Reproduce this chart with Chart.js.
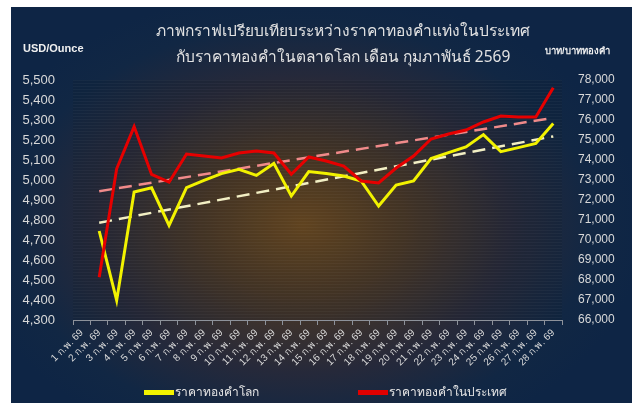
<!DOCTYPE html>
<html>
<head>
<meta charset="utf-8">
<script src="https://cdn.jsdelivr.net/npm/chart.js@4.4.1/dist/chart.umd.min.js"></script>
<style>
  body { margin: 0; background: #fff; font-family: "Liberation Sans", Arial, sans-serif; }
  #wrap {
    position: absolute; left: 11px; top: 7px; width: 621px; height: 396px;
    background: radial-gradient(ellipse 55% 60% at 47% 55%, #6c4a20 0%, #4a3826 30%, #26293a 62%, #112744 85%, #0e2545 100%);
    overflow: hidden;
  }
  #wrap canvas { position: absolute; left: 0; top: 0; }
  .title {
    position: absolute; left: 0; width: 664px; text-align: center;
    color: #e2e2e2; font-size: 15.5px; font-family: "Noto Sans", "DejaVu Sans", sans-serif;
  }
  .axlab { position: absolute; top: 35px; color: #f0f0f0; font-size: 11px; font-weight: bold; white-space: nowrap; }
  #legend { position: absolute; top: 375px; left: 0; width: 621px; height: 18px; color: #e6e6e6; font-size: 12px; }
  #legend span { position: absolute; top: 0; white-space: nowrap; }
  #legend i { display: inline-block; width: 30px; height: 5px; vertical-align: middle; margin-right: 1px; }
</style>
</head>
<body>
<div id="wrap">
  <canvas id="c" width="621" height="396"></canvas>
  <div class="title" style="top:11px">ภาพกราฟเปรียบเทียบระหว่างราคาทองคำแท่งในประเทศ</div>
  <div class="title" style="top:37px">กับราคาทองคำในตลาดโลก เดือน กุมภาพันธ์ 2569</div>
  <div class="axlab" style="left:12px">USD/Ounce</div>
  <div class="axlab" style="left:534px; font-size:9.5px; top:36px">บาท/บาททองคำ</div>
  <div id="legend">
    <span style="left:133px"><i style="background:#f2f200"></i>ราคาทองคำโลก</span>
    <span style="left:347px"><i style="background:#e00000"></i>ราคาทองคำในประเทศ</span>
  </div>
</div>
<script>
const days = ['1 ก.พ. 69','2 ก.พ. 69','3 ก.พ. 69','4 ก.พ. 69','5 ก.พ. 69','6 ก.พ. 69','7 ก.พ. 69',
  '8 ก.พ. 69','9 ก.พ. 69','10 ก.พ. 69','11 ก.พ. 69','12 ก.พ. 69','13 ก.พ. 69','14 ก.พ. 69',
  '15 ก.พ. 69','16 ก.พ. 69','17 ก.พ. 69','18 ก.พ. 69','19 ก.พ. 69','20 ก.พ. 69','21 ก.พ. 69',
  '22 ก.พ. 69','23 ก.พ. 69','24 ก.พ. 69','25 ก.พ. 69','26 ก.พ. 69','27 ก.พ. 69','28 ก.พ. 69'];

// world price, USD/ounce (no value on 1 Feb)
const worldPrice = [null, 4745, 4398, 4940, 4961, 4773, 4962, 4998, 5032, 5053, 5023, 5083, 4920, 5042,
  5032, 5020, 4995, 4870, 4975, 4995, 5107, 5137, 5165, 5227, 5142, 5162, 5183, 5282];
// thai price, baht per baht-weight
const thaiPrice = [null, 68140, 73560, 75670, 73280, 72890, 74300, 74200, 74100, 74350, 74450, 74350, 73290, 74150,
  73950, 73700, 72950, 72850, 73600, 74200, 75050, 75300, 75500, 75900, 76200, 76150, 76150, 77610];
// trend line end values (2 Feb and 28 Feb)
const worldTrendEnds = [4786, 5218];
const thaiTrendEnds = [72440, 76110];

function trendSeries(ends) {
  return days.map((d, i) => i === 1 ? ends[0] : (i === days.length - 1 ? ends[1] : null));
}

const plotBg = {
  id: 'plotBg',
  beforeDatasetsDraw(chart) {
    const {ctx, chartArea: a} = chart;
    ctx.save();
    ctx.fillStyle = 'rgba(10,15,25,0.12)';
    ctx.fillRect(a.left, a.top, a.right - a.left, a.bottom - a.top);
    ctx.strokeStyle = 'rgba(255,255,255,0.035)';
    ctx.lineWidth = 1;
    for (let y = a.top + 0.5; y < a.bottom; y += 3) {
      ctx.beginPath(); ctx.moveTo(a.left, y); ctx.lineTo(a.right, y); ctx.stroke();
    }
    ctx.restore();
  }
};

const fmt = v => Number(v).toLocaleString('en-US');

new Chart(document.getElementById('c'), {
  type: 'line',
  data: {
    labels: days,
    datasets: [
      { label: 'trend world', data: trendSeries(worldTrendEnds), yAxisID: 'y', borderColor: '#f2efc4',
        borderWidth: 2.5, borderDash: [13, 7], pointRadius: 0, spanGaps: true, order: 3 },
      { label: 'trend thai', data: trendSeries(thaiTrendEnds), yAxisID: 'y2', borderColor: '#f08a8a',
        borderWidth: 2.5, borderDash: [13, 7], pointRadius: 0, spanGaps: true, order: 4 },
      { label: 'ราคาทองคำโลก', data: worldPrice, yAxisID: 'y', borderColor: '#f2f200',
        borderWidth: 3, pointRadius: 0, tension: 0, order: 2 },
      { label: 'ราคาทองคำในประเทศ', data: thaiPrice, yAxisID: 'y2', borderColor: '#e60000',
        borderWidth: 3, pointRadius: 0, tension: 0, order: 1 }
    ]
  },
  options: {
    responsive: false,
    animation: false,
    devicePixelRatio: 1,
    layout: { padding: { top: 73, left: 0, right: 0, bottom: 0 } },
    plugins: { legend: { display: false }, title: { display: false }, tooltip: { enabled: false } },
    scales: {
      x: {
        offset: true,
        grid: { offset: true, drawOnChartArea: false, color: '#8d929b', tickLength: 5 },
        border: { color: '#8d929b' },
        ticks: { color: '#d9d9d9', font: { size: 10, family: 'Liberation Sans' },
                 maxRotation: 45, minRotation: 45, autoSkip: false, padding: 2 },
        afterFit(s) { s.height = 83; }
      },
      y: {
        position: 'left', min: 4300, max: 5500,
        grid: { display: false, drawTicks: false }, border: { display: false },
        ticks: { stepSize: 100, color: '#d9d9d9', padding: 18, font: { size: 13, family: 'Liberation Sans' },
                 callback: fmt },
        afterFit(s) { s.width = 62; }
      },
      y2: {
        position: 'right', min: 66000, max: 78000,
        grid: { display: false, drawTicks: false }, border: { display: false },
        ticks: { stepSize: 1000, color: '#d9d9d9', padding: 16, font: { size: 12, family: 'Liberation Sans' },
                 callback: fmt },
        afterFit(s) { s.width = 70; }
      }
    }
  },
  plugins: [plotBg]
});
</script>
</body>
</html>
